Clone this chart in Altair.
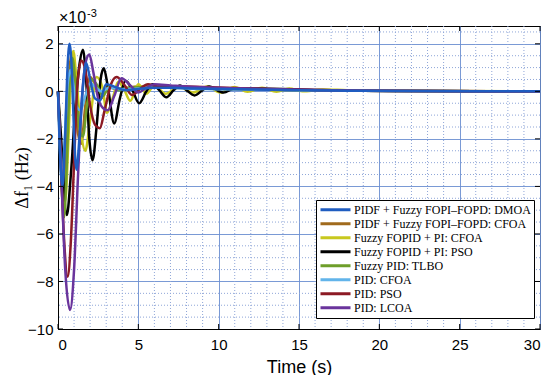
import altair as alt
import pandas as pd

series_names = [
    "PIDF + Fuzzy FOPI–FOPD: DMOA",
    "PIDF + Fuzzy FOPI–FOPD: CFOA",
    "Fuzzy FOPID + PI: CFOA",
    "Fuzzy FOPID + PI: PSO",
    "Fuzzy PID: TLBO",
    "PID: CFOA",
    "PID: PSO",
    "PID: LCOA",
]
colors = ["#1f5cc0", "#a06a1c", "#c8c81e", "#000000", "#6e9e2a", "#62b4ea", "#8c1a24", "#6a349c"]

# values in units of 1e-3 Hz
t_dmoa = [0, 0.1, 0.28, 0.45, 0.58, 0.72, 0.88, 1.0, 1.15, 1.35, 1.55, 1.75, 2.0, 2.3, 2.6, 3.0, 3.5, 4.2, 5, 6, 7, 8.5, 10, 12, 15, 18, 22, 26, 30]
v_dmoa = [0, -2.2, -4.0, -1.8, 0.8, 2.0, 0.6, -1.8, -3.3, -1.8, 0.2, 1.2, 0.5, -0.3, -0.4, 0.3, 0.2, 0.05, 0.1, 0.15, 0.15, 0.12, 0.1, 0.08, 0.05, 0.03, 0.01, 0.0, 0.0]

t_cfoa1 = [0, 0.12, 0.32, 0.5, 0.68, 0.85, 1.02, 1.25, 1.45, 1.7, 2.0, 2.3, 2.7, 3.1, 3.6, 4.2, 5, 6, 7, 8.5, 10, 12, 15, 18, 22, 26, 30]
v_cfoa1 = [0, -2.0, -4.6, -2.0, 0.6, 1.6, 0.4, -1.8, -2.2, -0.6, 0.6, 0.3, -0.3, 0.2, 0.1, 0.15, 0.2, 0.2, 0.18, 0.15, 0.12, 0.08, 0.05, 0.03, 0.01, 0, 0]

t_cfoa2 = [0, 0.15, 0.45, 0.65, 0.82, 0.95, 1.15, 1.45, 1.7, 2.0, 2.4, 2.75, 3.05, 3.4, 3.75, 4.1, 4.5, 5.0, 5.5, 6.0, 6.7, 7.5, 8.4, 9.3, 10.1, 11.0, 11.8, 12.7, 13.6, 14.4, 15.2, 16.5, 18, 21, 25, 30]
v_cfoa2 = [0, -2.0, -4.6, -2.0, 0.8, 1.7, 0.5, -1.8, -2.5, -1.2, 0.6, 0.2, -0.9, -0.3, 0.4, 0.1, -0.4, 0.3, -0.1, 0.25, -0.1, 0.2, -0.05, 0.2, -0.05, 0.18, -0.02, 0.15, -0.02, 0.12, 0.0, 0.08, 0.05, 0.03, 0.01, 0]

t_pso1 = [0, 0.15, 0.55, 0.8, 1.1, 1.35, 1.55, 1.75, 1.95, 2.15, 2.4, 2.65, 2.85, 3.1, 3.5, 3.85, 4.2, 4.6, 5.05, 5.5, 5.9, 6.3, 6.75, 7.2, 7.6, 8.0, 8.5, 9.0, 9.4, 10.3, 11, 12, 14, 16, 19, 22, 26, 30]
v_pso1 = [0, -1.5, -5.2, -3.5, -0.5, 1.2, 1.75, 0.5, -2.0, -2.9, -1.5, 0.5, 0.97, 0.2, -1.35, -0.3, 0.45, 0.1, -0.5, 0.0, 0.3, 0.05, -0.25, 0.05, 0.25, 0.05, -0.17, 0.05, 0.2, -0.05, 0.12, 0.12, 0.1, 0.06, 0.03, 0.01, 0, 0]

t_tlbo = [0, 0.12, 0.38, 0.55, 0.72, 0.9, 1.1, 1.35, 1.55, 1.8, 2.1, 2.4, 2.8, 3.2, 3.8, 4.5, 5.5, 7, 9, 12, 15, 18, 22, 26, 30]
v_tlbo = [0, -2.2, -5.3, -3.0, 0.3, 1.4, 0.2, -1.6, -1.9, -0.6, 0.5, 0.3, -0.2, 0.2, 0.05, 0.15, 0.18, 0.15, 0.12, 0.08, 0.05, 0.03, 0.01, 0, 0]

t_pidcfoa = [0, 0.1, 0.25, 0.42, 0.6, 0.78, 0.95, 1.15, 1.4, 1.7, 2.0, 2.3, 2.7, 3.2, 3.8, 4.5, 5.5, 7, 9, 12, 15, 18, 22, 26, 30]
v_pidcfoa = [0, -2.0, -3.8, -2.0, 0.3, 0.9, 0.3, -0.6, -0.8, -0.2, 0.35, 0.2, 0.0, 0.15, 0.1, 0.1, 0.15, 0.15, 0.1, 0.08, 0.05, 0.03, 0.01, 0, 0]

t_pidpso = [0, 0.15, 0.4, 0.6, 0.8, 1.0, 1.2, 1.45, 1.7, 2.0, 2.3, 2.6, 2.9, 3.3, 3.65, 4.1, 4.6, 5.1, 5.6, 6.2, 7, 8, 9, 11, 13, 16, 19, 23, 27, 30]
v_pidpso = [0, -2.5, -6.5, -7.8, -6.3, -3.0, 0.2, 1.3, 0.9, -0.6, -1.4, -1.55, -0.8, 0.3, 0.6, 0.3, -0.15, 0.1, 0.3, 0.2, 0.22, 0.2, 0.18, 0.14, 0.1, 0.06, 0.03, 0.01, 0, 0]

t_lcoa = [0, 0.15, 0.45, 0.75, 1.0, 1.25, 1.5, 1.75, 1.95, 2.2, 2.5, 2.8, 3.1, 3.5, 3.95, 4.5, 5.0, 5.5, 6.0, 7, 8, 9, 11, 13, 16, 19, 23, 27, 30]
v_lcoa = [0, -2.5, -7.5, -9.2, -7.5, -3.5, -0.2, 1.3, 1.55, 0.8, -0.3, -0.7, -0.8, -0.2, 0.55, 0.25, -0.05, 0.15, 0.3, 0.25, 0.2, 0.17, 0.13, 0.1, 0.06, 0.03, 0.01, 0, 0]

x_major = [0, 5, 10, 15, 20, 25, 30]
y_major = [-10, -8, -6, -4, -2, 0, 2]
x_minor = [1, 2, 3, 4, 6, 7, 8, 9, 11, 12, 13, 14, 16, 17, 18, 19, 21, 22, 23, 24, 26, 27, 28, 29]
y_minor = [-9.5, -9, -8.5, -7.5, -7, -6.5, -5.5, -5, -4.5, -3.5, -3, -2.5, -1.5, -1, -0.5, 0.5, 1, 1.5, 2.5]

all_t = [t_dmoa, t_cfoa1, t_cfoa2, t_pso1, t_tlbo, t_pidcfoa, t_pidpso, t_lcoa]
all_v = [v_dmoa, v_cfoa1, v_cfoa2, v_pso1, v_tlbo, v_pidcfoa, v_pidpso, v_lcoa]

rows = []
draw_order = [1, 2, 3, 4, 5, 6, 7, 0]
for k in draw_order:
    for i, (t, v) in enumerate(zip(all_t[k], all_v[k])):
        rows.append({"series": series_names[k], "t": t, "v": v, "i": i})
df = pd.DataFrame(rows)

W, H = 482, 303
xs = alt.Scale(domain=[0, 30], nice=False, zero=False)
ys = alt.Scale(domain=[-10, 2.75], nice=False, zero=False)

x_axis = alt.Axis(values=x_major, format="d", grid=True, ticks=False,
                  labelPadding=8, titlePadding=6)
y_axis = alt.Axis(values=y_major, format="d", grid=True, ticks=False,
                  labelPadding=5, titleFont="Times New Roman",
                  titleFontSize=18, titleFontWeight="normal",
                  titleX=-36, titleY=H / 2, titleAngle=270,
                  titleAlign="center", titleBaseline="middle")
X = alt.X("t:Q", scale=xs, title="Time (s)", axis=x_axis)
Y = alt.Y("v:Q", scale=ys, title="Δf₁ (Hz)", axis=y_axis)

minor_col = "#8fa6d8"

vminor = alt.Chart(pd.DataFrame({"t": x_minor})).mark_rule(
    color=minor_col, strokeDash=[1, 2], strokeWidth=1
).encode(x=X)

hminor = alt.Chart(pd.DataFrame({"v": y_minor})).mark_rule(
    color=minor_col, strokeDash=[1, 2], strokeWidth=1
).encode(y=Y)

lines = alt.Chart(df).mark_line(strokeWidth=2.5, interpolate="monotone").encode(
    x=X,
    y=Y,
    color=alt.Color("series:N", scale=alt.Scale(domain=series_names, range=colors),
                    legend=alt.Legend(title=None, orient="none", legendX=258, legendY=174,
                                      symbolType="stroke", symbolSize=900, symbolStrokeWidth=3,
                                      labelFont="Times New Roman", labelFontSize=12,
                                      labelColor="black", clipHeight=13.5, rowPadding=0,
                                      padding=3, strokeColor="black", fillColor="white",
                                      labelOffset=2, labelLimit=300)),
    order="i:Q",
)

tick_df = pd.DataFrame({"t": x_major})
ytick_df = pd.DataFrame({"v": y_major})
xt_bot = alt.Chart(tick_df).mark_rule(color="black").encode(
    x=X, y=alt.value(H), y2=alt.value(H - 5))
xt_top = alt.Chart(tick_df).mark_rule(color="black").encode(
    x=X, y=alt.value(0), y2=alt.value(5))
yt_left = alt.Chart(ytick_df).mark_rule(color="black").encode(
    y=Y, x=alt.value(0), x2=alt.value(5))
yt_right = alt.Chart(ytick_df).mark_rule(color="black").encode(
    y=Y, x=alt.value(W), x2=alt.value(W - 5))

exp_base = alt.Chart(pd.DataFrame({"s": ["×10"]})).mark_text(
    align="left", baseline="alphabetic", fontSize=16, font="Liberation Sans", color="black"
).encode(text="s:N", x=alt.value(1), y=alt.value(-3))
exp_sup = alt.Chart(pd.DataFrame({"s": ["-3"]})).mark_text(
    align="left", baseline="alphabetic", fontSize=11, font="Liberation Sans", color="black"
).encode(text="s:N", x=alt.value(29), y=alt.value(-9))

chart = alt.layer(vminor, hminor, lines, xt_bot, xt_top, yt_left, yt_right, exp_base, exp_sup).properties(
    width=W, height=H,
    autosize=alt.AutoSizeParams(type="none"),
    padding={"left": 50, "top": 18, "right": 2, "bottom": 46},
).configure_view(stroke="black", strokeWidth=1).configure_axis(
    labelFont="Liberation Sans", labelFontSize=15, labelColor="black",
    titleFont="Liberation Sans", titleFontSize=18, titleFontWeight="normal", titleColor="black",
    domainColor="black", domainWidth=1, gridColor="#6b8fd0", gridWidth=1, gridOpacity=0.9,
)

chart.save("out.html", embed_options={"renderer": "svg", "actions": False})
